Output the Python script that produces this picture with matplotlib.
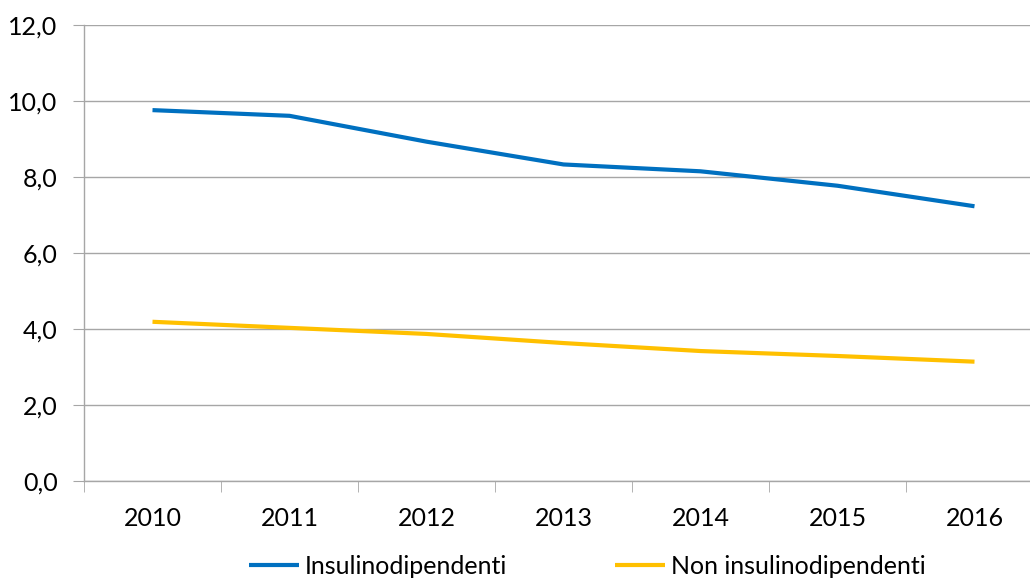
import matplotlib.pyplot as plt
from matplotlib.ticker import FuncFormatter

years = ['2010', '2011', '2012', '2013', '2014', '2015', '2016']
insulino = [9.76, 9.61, 8.93, 8.33, 8.15, 7.77, 7.23]
non_insulino = [4.19, 4.03, 3.87, 3.63, 3.42, 3.29, 3.14]

plt.rcParams['font.family'] = ['Lato', 'DejaVu Sans']

W, H = 1030, 581
fig = plt.figure(figsize=(W / 100, H / 100), dpi=100)
# plot area runs past the right edge of the picture, like the original crop
ax = fig.add_axes([84 / W, (H - 481) / H, 959 / W, 456 / H])

x = list(range(len(years)))
ax.plot(x, insulino, color='#0070C0', lw=3, solid_capstyle='butt', label='Insulinodipendenti')
ax.plot(x, non_insulino, color='#FFC000', lw=3, solid_capstyle='butt', label='Non insulinodipendenti')

ax.set_xlim(-0.5, len(years) - 0.5)
ax.set_ylim(0, 12)
ax.set_yticks([0, 2, 4, 6, 8, 10, 12])
ax.yaxis.set_major_formatter(FuncFormatter(lambda v, p: f'{v:.1f}'.replace('.', ',')))
ax.set_xticks(x)
ax.set_xticklabels(years)
ax.set_xticks([i - 0.5 for i in range(len(years) + 1)], minor=True)

ax.grid(axis='y', color='#a6a6a6', lw=1)
ax.set_axisbelow(True)
for s in ['top', 'right']:
    ax.spines[s].set_visible(False)
for s in ['left', 'bottom']:
    ax.spines[s].set_color('#a6a6a6')
    ax.spines[s].set_linewidth(1)

ax.tick_params(axis='y', length=8, color='#a6a6a6', labelsize=18, pad=11)
ax.tick_params(axis='x', which='major', length=0, labelsize=18, pad=19)
ax.tick_params(axis='x', which='minor', length=8, color='#a6a6a6')

fig.legend(loc='center', bbox_to_anchor=(0.57, 1 - 566 / H), ncol=2, frameon=False,
           fontsize=18, handlelength=2.0, handletextpad=0.25, columnspacing=4.3)

plt.savefig('out.png', dpi=100)
plt.close()
